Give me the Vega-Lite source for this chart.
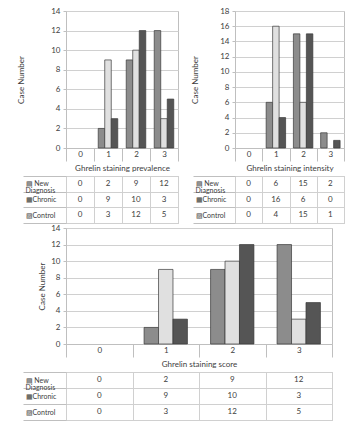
{
  "$schema": "https://vega.github.io/schema/vega-lite/v6.json",
  "background": "white",
  "padding": {"left": 17, "top": 6, "right": 5, "bottom": 5},
  "config": {
    "font": "Lato",
    "view": {"stroke": "#bfbfbf", "strokeWidth": 1},
    "axis": {
      "labelFont": "Lato", "labelFontSize": 8, "labelColor": "#404040",
      "titleFont": "Lato", "titleFontSize": 8, "titleFontWeight": "normal", "titleColor": "#404040",
      "domainColor": "#bfbfbf", "tickColor": "#bfbfbf", "gridColor": "#d0d0d0"
    },
    "text": {"font": "Lato", "fontSize": 8, "color": "#404040"}
  },
  "datasets": {
    "prevalence": [
      {"group": "New Diagnosis", "score": 0, "count": 0},
      {"group": "New Diagnosis", "score": 1, "count": 2},
      {"group": "New Diagnosis", "score": 2, "count": 9},
      {"group": "New Diagnosis", "score": 3, "count": 12},
      {"group": "Chronic", "score": 0, "count": 0},
      {"group": "Chronic", "score": 1, "count": 9},
      {"group": "Chronic", "score": 2, "count": 10},
      {"group": "Chronic", "score": 3, "count": 3},
      {"group": "Control", "score": 0, "count": 0},
      {"group": "Control", "score": 1, "count": 3},
      {"group": "Control", "score": 2, "count": 12},
      {"group": "Control", "score": 3, "count": 5}
    ],
    "intensity": [
      {"group": "New Diagnosis", "score": 0, "count": 0},
      {"group": "New Diagnosis", "score": 1, "count": 6},
      {"group": "New Diagnosis", "score": 2, "count": 15},
      {"group": "New Diagnosis", "score": 3, "count": 2},
      {"group": "Chronic", "score": 0, "count": 0},
      {"group": "Chronic", "score": 1, "count": 16},
      {"group": "Chronic", "score": 2, "count": 6},
      {"group": "Chronic", "score": 3, "count": 0},
      {"group": "Control", "score": 0, "count": 0},
      {"group": "Control", "score": 1, "count": 4},
      {"group": "Control", "score": 2, "count": 15},
      {"group": "Control", "score": 3, "count": 1}
    ],
    "scorestat": [
      {"group": "New Diagnosis", "score": 0, "count": 0},
      {"group": "New Diagnosis", "score": 1, "count": 2},
      {"group": "New Diagnosis", "score": 2, "count": 9},
      {"group": "New Diagnosis", "score": 3, "count": 12},
      {"group": "Chronic", "score": 0, "count": 0},
      {"group": "Chronic", "score": 1, "count": 9},
      {"group": "Chronic", "score": 2, "count": 10},
      {"group": "Chronic", "score": 3, "count": 3},
      {"group": "Control", "score": 0, "count": 0},
      {"group": "Control", "score": 1, "count": 3},
      {"group": "Control", "score": 2, "count": 12},
      {"group": "Control", "score": 3, "count": 5}
    ]
  },
  "spacing": -1,
  "resolve": {"scale": {"xOffset": "independent", "x": "independent", "y": "independent"}},
  "vconcat": [
    {
      "spacing": 12,
      "resolve": {"scale": {"xOffset": "independent", "x": "independent", "y": "independent"}},
      "hconcat": [
        {
          "data": {"name": "prevalence"},
          "spacing": -2,
          "resolve": {"scale": {"xOffset": "independent", "x": "independent", "y": "independent"}},
          "vconcat": [
            {
              "width": 112, "height": 137,
              "transform": [{"filter": "datum.count > 0"}],
              "mark": {"type": "bar", "stroke": "#3a3a3a", "strokeWidth": 0.7},
              "encoding": {
                "x": {"field": "score", "type": "ordinal", "scale": {"paddingInner": 0, "paddingOuter": 0, "domain": [0, 1, 2, 3]},
                  "axis": {"title": "Ghrelin staining prevalence", "labelAngle": 0, "tickBand": "extent", "tickSize": 13, "labelPadding": -11, "titlePadding": 3}},
                "xOffset": {"field": "group", "sort": ["New Diagnosis", "Chronic", "Control"], "scale": {"paddingInner": 0, "paddingOuter": 0.65}},
                "y": {"field": "count", "type": "quantitative", "scale": {"domain": [0, 14]},
                  "axis": {"values": [0, 2, 4, 6, 8, 10, 12, 14], "title": "Case Number", "tickSize": 3, "labelPadding": 3, "domain": false, "titlePadding": 25}},
                "fill": {"field": "group", "scale": {"domain": ["New Diagnosis", "Chronic", "Control"], "range": ["#8c8c8c", "#e0e0e0", "#555555"]}, "legend": null}
              }
            },
            {
              "width": 112, "height": 47,
              "mark": {"type": "text"},
              "encoding": {
                "x": {"field": "score", "type": "ordinal", "scale": {"paddingInner": 0, "paddingOuter": 0},
                  "axis": {"labels": false, "ticks": false, "domain": false, "title": null, "grid": true, "tickBand": "extent", "orient": "top"}},
                "y": {"field": "group", "type": "nominal", "sort": ["New Diagnosis", "Chronic", "Control"], "scale": {"paddingInner": 0, "paddingOuter": 0},
                  "axis": {"title": null, "grid": true, "tickBand": "extent", "tickSize": 43, "labelAlign": "left", "labelBaseline": "middle", "labelPadding": -2, "domain": false, "labelFontSize": 7, "labelLineHeight": 7,
                    "labelExpr": "datum.label == 'New Diagnosis' ? ['▤    New', '   Diagnosis'] : datum.label == 'Chronic' ? '▦Chronic' : datum.label == 'Control' ? '▨Control' : ''"}},
                "text": {"field": "count"}
              }
            }
          ]
        },
        {
          "data": {"name": "intensity"},
          "spacing": -2,
          "resolve": {"scale": {"xOffset": "independent", "x": "independent", "y": "independent"}},
          "vconcat": [
            {
              "width": 109, "height": 137,
              "transform": [{"filter": "datum.count > 0"}],
              "mark": {"type": "bar", "stroke": "#3a3a3a", "strokeWidth": 0.7},
              "encoding": {
                "x": {"field": "score", "type": "ordinal", "scale": {"paddingInner": 0, "paddingOuter": 0, "domain": [0, 1, 2, 3]},
                  "axis": {"title": "Ghrelin staining intensity", "labelAngle": 0, "tickBand": "extent", "tickSize": 13, "labelPadding": -11, "titlePadding": 3}},
                "xOffset": {"field": "group", "sort": ["New Diagnosis", "Chronic", "Control"], "scale": {"paddingInner": 0, "paddingOuter": 0.6}},
                "y": {"field": "count", "type": "quantitative", "scale": {"domain": [0, 18]},
                  "axis": {"values": [0, 2, 4, 6, 8, 10, 12, 14, 16, 18], "title": "Case Number", "tickSize": 3, "labelPadding": 3, "domain": false, "titlePadding": 20}},
                "fill": {"field": "group", "scale": {"domain": ["New Diagnosis", "Chronic", "Control"], "range": ["#8c8c8c", "#e0e0e0", "#555555"]}, "legend": null}
              }
            },
            {
              "width": 109, "height": 47,
              "mark": {"type": "text"},
              "encoding": {
                "x": {"field": "score", "type": "ordinal", "scale": {"paddingInner": 0, "paddingOuter": 0},
                  "axis": {"labels": false, "ticks": false, "domain": false, "title": null, "grid": true, "tickBand": "extent", "orient": "top"}},
                "y": {"field": "group", "type": "nominal", "sort": ["New Diagnosis", "Chronic", "Control"], "scale": {"paddingInner": 0, "paddingOuter": 0},
                  "axis": {"title": null, "grid": true, "tickBand": "extent", "tickSize": 42, "labelAlign": "left", "labelBaseline": "middle", "labelPadding": -2, "domain": false, "labelFontSize": 7, "labelLineHeight": 7,
                    "labelExpr": "datum.label == 'New Diagnosis' ? ['▤    New', '   Diagnosis'] : datum.label == 'Chronic' ? '▦Chronic' : datum.label == 'Control' ? '▨Control' : ''"}},
                "text": {"field": "count"}
              }
            }
          ]
        }
      ]
    },
    {
      "data": {"name": "scorestat"},
      "spacing": -2,
      "resolve": {"scale": {"xOffset": "independent", "x": "independent", "y": "independent"}},
      "vconcat": [
        {
          "width": 266, "height": 116,
          "transform": [{"filter": "datum.count > 0"}],
          "mark": {"type": "bar", "stroke": "#3a3a3a", "strokeWidth": 0.7},
          "encoding": {
            "x": {"field": "score", "type": "ordinal", "scale": {"paddingInner": 0, "paddingOuter": 0, "domain": [0, 1, 2, 3]},
              "axis": {"title": "Ghrelin staining score", "labelAngle": 0, "tickBand": "extent", "tickSize": 13, "labelPadding": -11, "titlePadding": 3}},
            "xOffset": {"field": "group", "sort": ["New Diagnosis", "Chronic", "Control"], "scale": {"paddingInner": 0, "paddingOuter": 0.8}},
            "y": {"field": "count", "type": "quantitative", "scale": {"domain": [0, 14]},
              "axis": {"values": [0, 2, 4, 6, 8, 10, 12, 14], "title": "Case Number", "tickSize": 3, "labelPadding": 3, "domain": false, "titlePadding": 4}},
            "fill": {"field": "group", "scale": {"domain": ["New Diagnosis", "Chronic", "Control"], "range": ["#8c8c8c", "#e0e0e0", "#555555"]}, "legend": null}
          }
        },
        {
          "width": 266, "height": 48,
          "mark": {"type": "text"},
          "encoding": {
            "x": {"field": "score", "type": "ordinal", "scale": {"paddingInner": 0, "paddingOuter": 0},
              "axis": {"labels": false, "ticks": false, "domain": false, "title": null, "grid": true, "tickBand": "extent", "orient": "top"}},
            "y": {"field": "group", "type": "nominal", "sort": ["New Diagnosis", "Chronic", "Control"], "scale": {"paddingInner": 0, "paddingOuter": 0},
              "axis": {"title": null, "grid": true, "tickBand": "extent", "tickSize": 43, "labelAlign": "left", "labelBaseline": "middle", "labelPadding": -2, "domain": false, "labelFontSize": 7, "labelLineHeight": 7,
                "labelExpr": "datum.label == 'New Diagnosis' ? ['▤     New', '    Diagnosis'] : datum.label == 'Chronic' ? '▦Chronic' : datum.label == 'Control' ? '▨Control' : ''"}},
            "text": {"field": "count"}
          }
        }
      ]
    }
  ]
}
